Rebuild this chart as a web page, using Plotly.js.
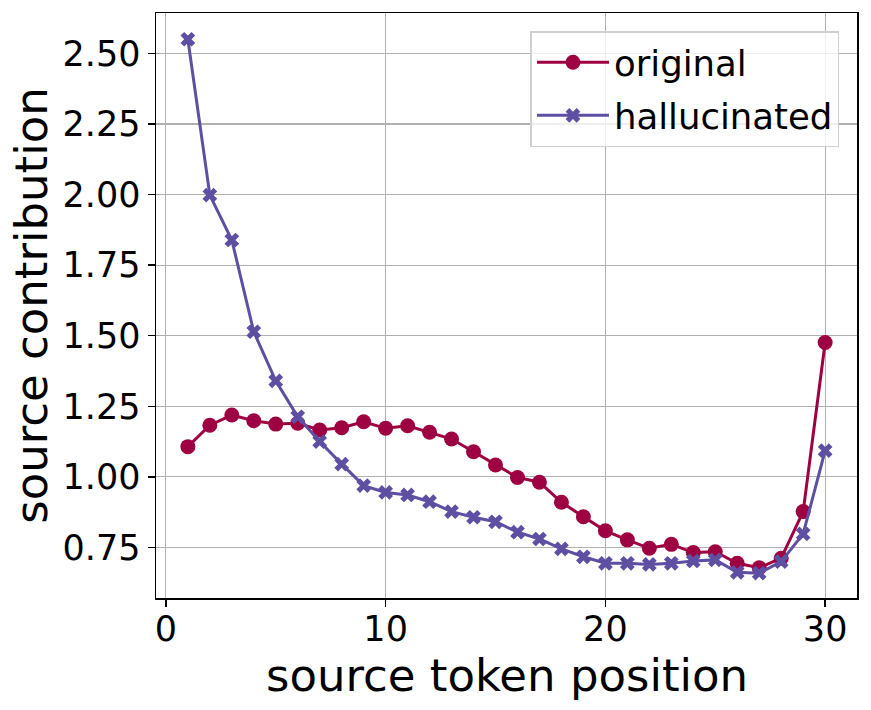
<!DOCTYPE html>
<html>
<head>
<meta charset="utf-8">
<script src="https://cdn.plot.ly/plotly-3.0.1.min.js"></script>
<style>
  html, body { margin: 0; padding: 0; background: white; }
  #grafica { width: 871px; height: 710px; }
</style>
</head>
<body>
<div id="grafica"></div>
<script>
// Datos
const posiciones = [1, 2, 3, 4, 5, 6, 7, 8, 9, 10, 11, 12, 13, 14, 15,
                    16, 17, 18, 19, 20, 21, 22, 23, 24, 25, 26, 27, 28, 29, 30];
const original = [1.107, 1.183, 1.219, 1.199, 1.187, 1.190, 1.166, 1.174, 1.195, 1.172,
                  1.181, 1.158, 1.134, 1.089, 1.042, 0.998, 0.981, 0.910, 0.859, 0.809,
                  0.777, 0.747, 0.761, 0.732, 0.735, 0.694, 0.678, 0.712, 0.877, 1.476];
const alucinado = [2.550, 1.998, 1.839, 1.514, 1.340, 1.213, 1.125, 1.045, 0.969, 0.945,
                   0.936, 0.912, 0.877, 0.857, 0.841, 0.804, 0.780, 0.745, 0.717, 0.694,
                   0.694, 0.690, 0.694, 0.702, 0.706, 0.662, 0.659, 0.700, 0.798, 1.093];
const ticksY = [0.75, 1.00, 1.25, 1.50, 1.75, 2.00, 2.25, 2.50];
const ticksX = [0, 10, 20, 30];
const tituloX = 'source token position';
const tituloY = 'source contribution';

const fuente = 'DejaVu Sans, sans-serif';

const trazaOriginal = {
    x: posiciones,
    y: original,
    type: 'scatter',
    mode: 'lines+markers',
    name: 'original',
    legendgroup: 'a',
    line: { color: '#9e0142', width: 3 },
    marker: { symbol: 'circle', size: 15, color: '#9e0142' }
};

const trazaAlucinada = {
    x: posiciones,
    y: alucinado,
    type: 'scatter',
    mode: 'lines+markers',
    name: 'hallucinated',
    legendgroup: 'b',
    line: { color: '#5e4fa2', width: 3 },
    marker: { symbol: 'x', size: 13, color: '#5e4fa2' }
};

const ejeComun = {
    showline: true,
    linecolor: 'black',
    linewidth: 1.5,
    mirror: true,
    ticks: 'outside',
    ticklen: 7,
    tickwidth: 1.5,
    tickcolor: 'black',
    showgrid: true,
    gridcolor: '#b0b0b0',
    gridwidth: 1.2,
    zeroline: false,
    tickfont: { family: fuente, size: 35, color: 'black' }
};

const layout = {
    width: 871,
    height: 710,
    margin: { l: 156, r: 14, t: 13, b: 112 },
    paper_bgcolor: 'white',
    plot_bgcolor: 'white',
    font: { family: fuente, color: 'black' },
    xaxis: Object.assign({}, ejeComun, {
        range: [-0.45, 31.45],
        tickvals: ticksX,
        ticktext: ticksX.map(String),
        ticklabelstandoff: -8
    }),
    yaxis: Object.assign({}, ejeComun, {
        range: [0.571, 2.643],
        tickvals: ticksY,
        ticktext: ticksY.map(v => v.toFixed(2)),
        title: { text: tituloY, font: { family: fuente, size: 45 }, standoff: 1 }
    }),
    // Título del eje x como anotación para ajustar su altura
    annotations: [{
        text: tituloX,
        xref: 'paper', yref: 'paper',
        x: 0.5, y: -0.132,
        xanchor: 'center', yanchor: 'middle',
        showarrow: false,
        font: { family: fuente, size: 45, color: 'black' }
    }],
    legend: {
        x: 0.975,
        y: 0.969,
        xanchor: 'right',
        yanchor: 'top',
        traceorder: 'grouped',
        tracegroupgap: 4,
        itemwidth: 72,
        bgcolor: 'rgba(255,255,255,0.8)',
        bordercolor: '#d0d0d0',
        borderwidth: 1.5,
        font: { family: fuente, size: 35.5, color: 'black' }
    },
    showlegend: true
};

Plotly.newPlot('grafica', [trazaOriginal, trazaAlucinada], layout, { displayModeBar: false, staticPlot: true });
</script>
</body>
</html>
